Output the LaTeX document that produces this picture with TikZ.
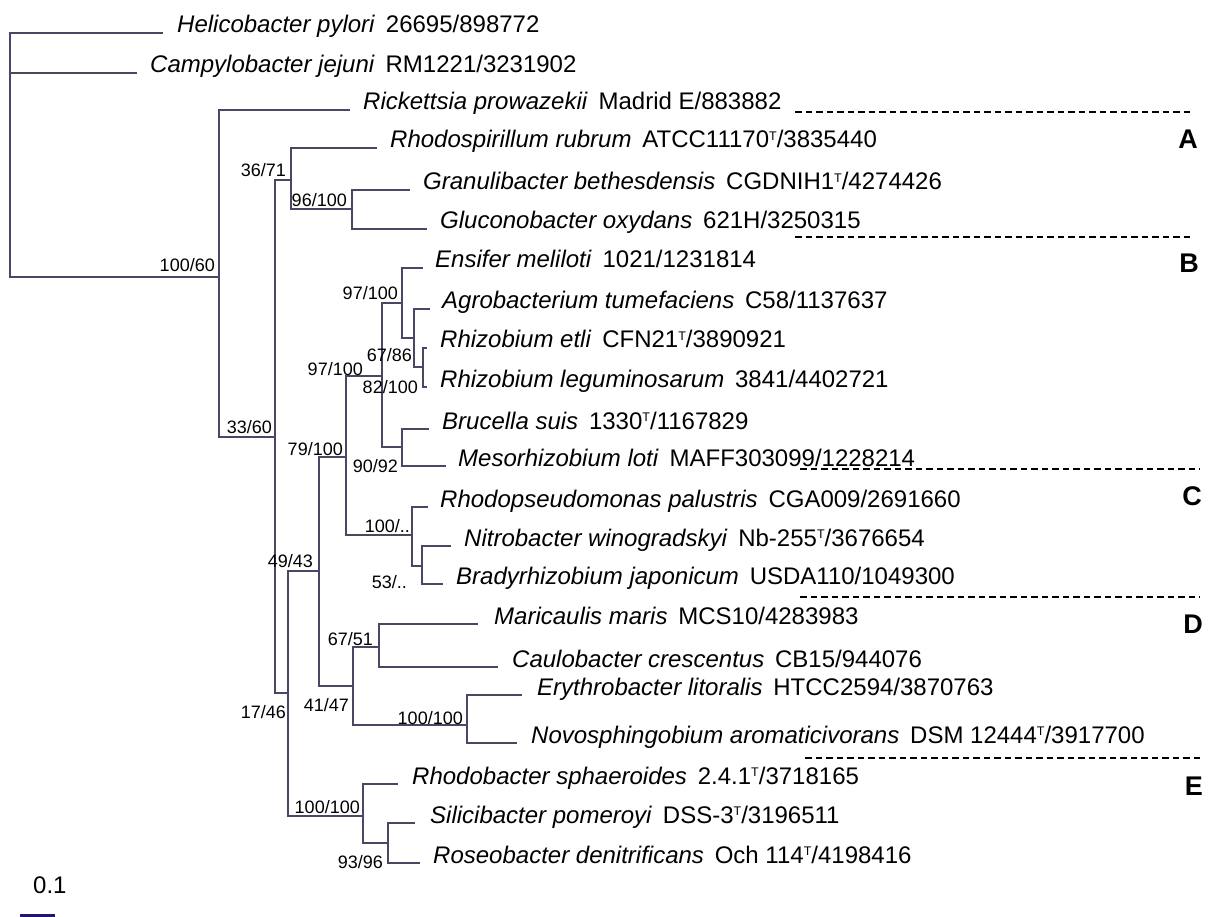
\documentclass[tikz,border=0pt]{standalone}
\usepackage{fontspec}
\setmainfont{Liberation Sans}
\newcommand\tT{\raisebox{0.62ex}{\fontsize{12.5}{12.5}\selectfont T}}
\newcommand\lf[2]{\textit{#1}\hspace{0.45em}#2}
\definecolor{treeclr}{RGB}{72,72,100}
\definecolor{barclr}{RGB}{35,20,110}
\begin{document}
\begin{tikzpicture}[x=1pt,y=-1pt,
  br/.style={draw=treeclr, line width=1.05pt, line join=miter},
  leaf/.style={anchor=base west, inner sep=0pt, font=\fontsize{24}{28}\selectfont},
  bs/.style={anchor=base east, inner sep=0pt, font=\fontsize{18}{20}\selectfont},
  grp/.style={anchor=base east, inner sep=0pt, font=\fontsize{27}{30}\selectfont\bfseries},
  sepline/.style={draw=black, line width=1.8pt, dash pattern=on 6.5pt off 4pt}]
\useasboundingbox (0,0) rectangle (1213,917);
\fill[white] (0,0) rectangle (1213,917);
% internal nodes
\coordinate (root) at (10,155);
\coordinate (n1) at (219,277);
\coordinate (n2) at (275,437);
\coordinate (n3) at (291,180);
\coordinate (n5) at (352,209);
\coordinate (n4) at (288,693);
\coordinate (n6) at (319,571);
\coordinate (n7) at (346,457);
\coordinate (n9) at (382,376);
\coordinate (n11) at (402,303);
\coordinate (n13) at (414,338);
\coordinate (n14) at (423,367);
\coordinate (n12) at (402,447);
\coordinate (n10) at (412,535);
\coordinate (n15) at (422,566);
\coordinate (n8) at (353,686);
\coordinate (n16) at (379,647);
\coordinate (n17) at (467,725);
\coordinate (ne) at (363,816);
\coordinate (n18) at (388,843);
% leaf tips
\coordinate (t1) at (163,33);
\coordinate (t2) at (137,73);
\coordinate (t3) at (350,110);
\coordinate (t4) at (377,148);
\coordinate (t5) at (410,190);
\coordinate (t6) at (427,229);
\coordinate (t7) at (423,268);
\coordinate (t8) at (430,309);
\coordinate (t9) at (427,348);
\coordinate (t10) at (427,387);
\coordinate (t11) at (429,429);
\coordinate (t12) at (446,466);
\coordinate (t13) at (428,507);
\coordinate (t14) at (451,546);
\coordinate (t15) at (443,584);
\coordinate (t16) at (478,624);
\coordinate (t17) at (498,667);
\coordinate (t18) at (522,695);
\coordinate (t19) at (517,743);
\coordinate (t20) at (398,784);
\coordinate (t21) at (415,823);
\coordinate (t22) at (420,863);
% leaf labels
\node[leaf] (L1) at (177,33) {\lf{Helicobacter pylori}{26695/898772}};
\node[leaf] (L2) at (150,73) {\lf{Campylobacter jejuni}{RM1221/3231902}};
\node[leaf] (L3) at (363,110) {\lf{Rickettsia prowazekii}{Madrid E/883882}};
\node[leaf] (L4) at (390,148) {\lf{Rhodospirillum rubrum}{ATCC11170\tT/3835440}};
\node[leaf] (L5) at (423,190) {\lf{Granulibacter bethesdensis}{CGDNIH1\tT/4274426}};
\node[leaf] (L6) at (440,229) {\lf{Gluconobacter oxydans}{621H/3250315}};
\node[leaf] (L7) at (435,268) {\lf{Ensifer meliloti}{1021/1231814}};
\node[leaf] (L8) at (442,309) {\lf{Agrobacterium tumefaciens}{C58/1137637}};
\node[leaf] (L9) at (440,348) {\lf{Rhizobium etli}{CFN21\tT/3890921}};
\node[leaf] (L10) at (440,387) {\lf{Rhizobium leguminosarum}{3841/4402721}};
\node[leaf] (L11) at (442,429) {\lf{Brucella suis}{1330\tT/1167829}};
\node[leaf] (L12) at (458,466) {\lf{Mesorhizobium loti}{MAFF303099/1228214}};
\node[leaf] (L13) at (440,507) {\lf{Rhodopseudomonas palustris}{CGA009/2691660}};
\node[leaf] (L14) at (464,546) {\lf{Nitrobacter winogradskyi}{Nb-255\tT/3676654}};
\node[leaf] (L15) at (456,584) {\lf{Bradyrhizobium japonicum}{USDA110/1049300}};
\node[leaf] (L16) at (494,624) {\lf{Maricaulis maris}{MCS10/4283983}};
\node[leaf] (L17) at (512,667) {\lf{Caulobacter crescentus}{CB15/944076}};
\node[leaf] (L18) at (537,695) {\lf{Erythrobacter litoralis}{HTCC2594/3870763}};
\node[leaf] (L19) at (531,743) {\lf{Novosphingobium aromaticivorans}{DSM 12444\tT/3917700}};
\node[leaf] (L20) at (412,784) {\lf{Rhodobacter sphaeroides}{2.4.1\tT/3718165}};
\node[leaf] (L21) at (430,823) {\lf{Silicibacter pomeroyi}{DSS-3\tT/3196511}};
\node[leaf] (L22) at (433,863) {\lf{Roseobacter denitrificans}{Och 114\tT/4198416}};
% branches
\draw[br] (root) |- (t1);
\draw[br] (root) |- (t2);
\draw[br] (root) |- (n1);
\draw[br] (n1) |- (t3);
\draw[br] (n1) |- (n2);
\draw[br] (n2) |- (n3);
\draw[br] (n2) |- (n4);
\draw[br] (n3) |- (t4);
\draw[br] (n3) |- (n5);
\draw[br] (n5) |- (t5);
\draw[br] (n5) |- (t6);
\draw[br] (n4) |- (n6);
\draw[br] (n4) |- (ne);
\draw[br] (n6) |- (n7);
\draw[br] (n6) |- (n8);
\draw[br] (n7) |- (n9);
\draw[br] (n7) |- (n10);
\draw[br] (n9) |- (n11);
\draw[br] (n9) |- (n12);
\draw[br] (n11) |- (t7);
\draw[br] (n11) |- (n13);
\draw[br] (n13) |- (t8);
\draw[br] (n13) |- (n14);
\draw[br] (n14) |- (t9);
\draw[br] (n14) |- (t10);
\draw[br] (n12) |- (t11);
\draw[br] (n12) |- (t12);
\draw[br] (n10) |- (t13);
\draw[br] (n10) |- (n15);
\draw[br] (n15) |- (t14);
\draw[br] (n15) |- (t15);
\draw[br] (n8) |- (n16);
\draw[br] (n8) |- (n17);
\draw[br] (n16) |- (t16);
\draw[br] (n16) |- (t17);
\draw[br] (n17) |- (t18);
\draw[br] (n17) |- (t19);
\draw[br] (ne) |- (t20);
\draw[br] (ne) |- (n18);
\draw[br] (n18) |- (t21);
\draw[br] (n18) |- (t22);
% bootstrap values
\node[bs] (b1) at (215,272) {100/60};
\node[bs] (b2) at (272,433) {33/60};
\node[bs] (b3) at (286,177) {36/71};
\node[bs] (b4) at (347,207) {96/100};
\node[bs] (b5) at (286,718) {17/46};
\node[bs] (b6) at (313,567) {49/43};
\node[bs] (b7) at (343,455) {79/100};
\node[bs] (b8) at (349,711) {41/47};
\node[bs] (b9) at (363,375) {97/100};
\node[bs] (b10) at (410,532) {100/..};
\node[bs] (b11) at (398,300) {97/100};
\node[bs] (b12) at (412,362) {67/86};
\node[bs] (b13) at (418,393) {82/100};
\node[bs] (b14) at (398,472) {90/92};
\node[bs] (b15) at (407,588) {53/..};
\node[bs] (b16) at (373,645) {67/51};
\node[bs] (b17) at (463,724) {100/100};
\node[bs] (b18) at (360,813) {100/100};
\node[bs] (b19) at (383,868) {93/96};
% group separators and letters
\coordinate (sa1) at (795,112); \coordinate (sa2) at (1193,112);
\coordinate (sb1) at (795,237); \coordinate (sb2) at (1193,237);
\coordinate (sc1) at (800,469); \coordinate (sc2) at (1200,469);
\coordinate (sd1) at (800,597); \coordinate (sd2) at (1200,597);
\coordinate (se1) at (805,758); \coordinate (se2) at (1200,758);
\draw[sepline] (sa1) -- (sa2);
\draw[sepline] (sb1) -- (sb2);
\draw[sepline] (sc1) -- (sc2);
\draw[sepline] (sd1) -- (sd2);
\draw[sepline] (se1) -- (se2);
\node[grp] (gA) at (1198,149) {A};
\node[grp] (gB) at (1199,273) {B};
\node[grp] (gC) at (1202,505) {C};
\node[grp] (gD) at (1203,633) {D};
\node[grp] (gE) at (1203,795) {E};
% scale bar
\node[leaf] (scl) at (33,893) {0.1};
\coordinate (sb0) at (20,915.5);
\coordinate (sbe) at (55,915.5);
\draw[draw=barclr, line width=3pt] (sb0) -- (sbe);
\end{tikzpicture}
\end{document}
